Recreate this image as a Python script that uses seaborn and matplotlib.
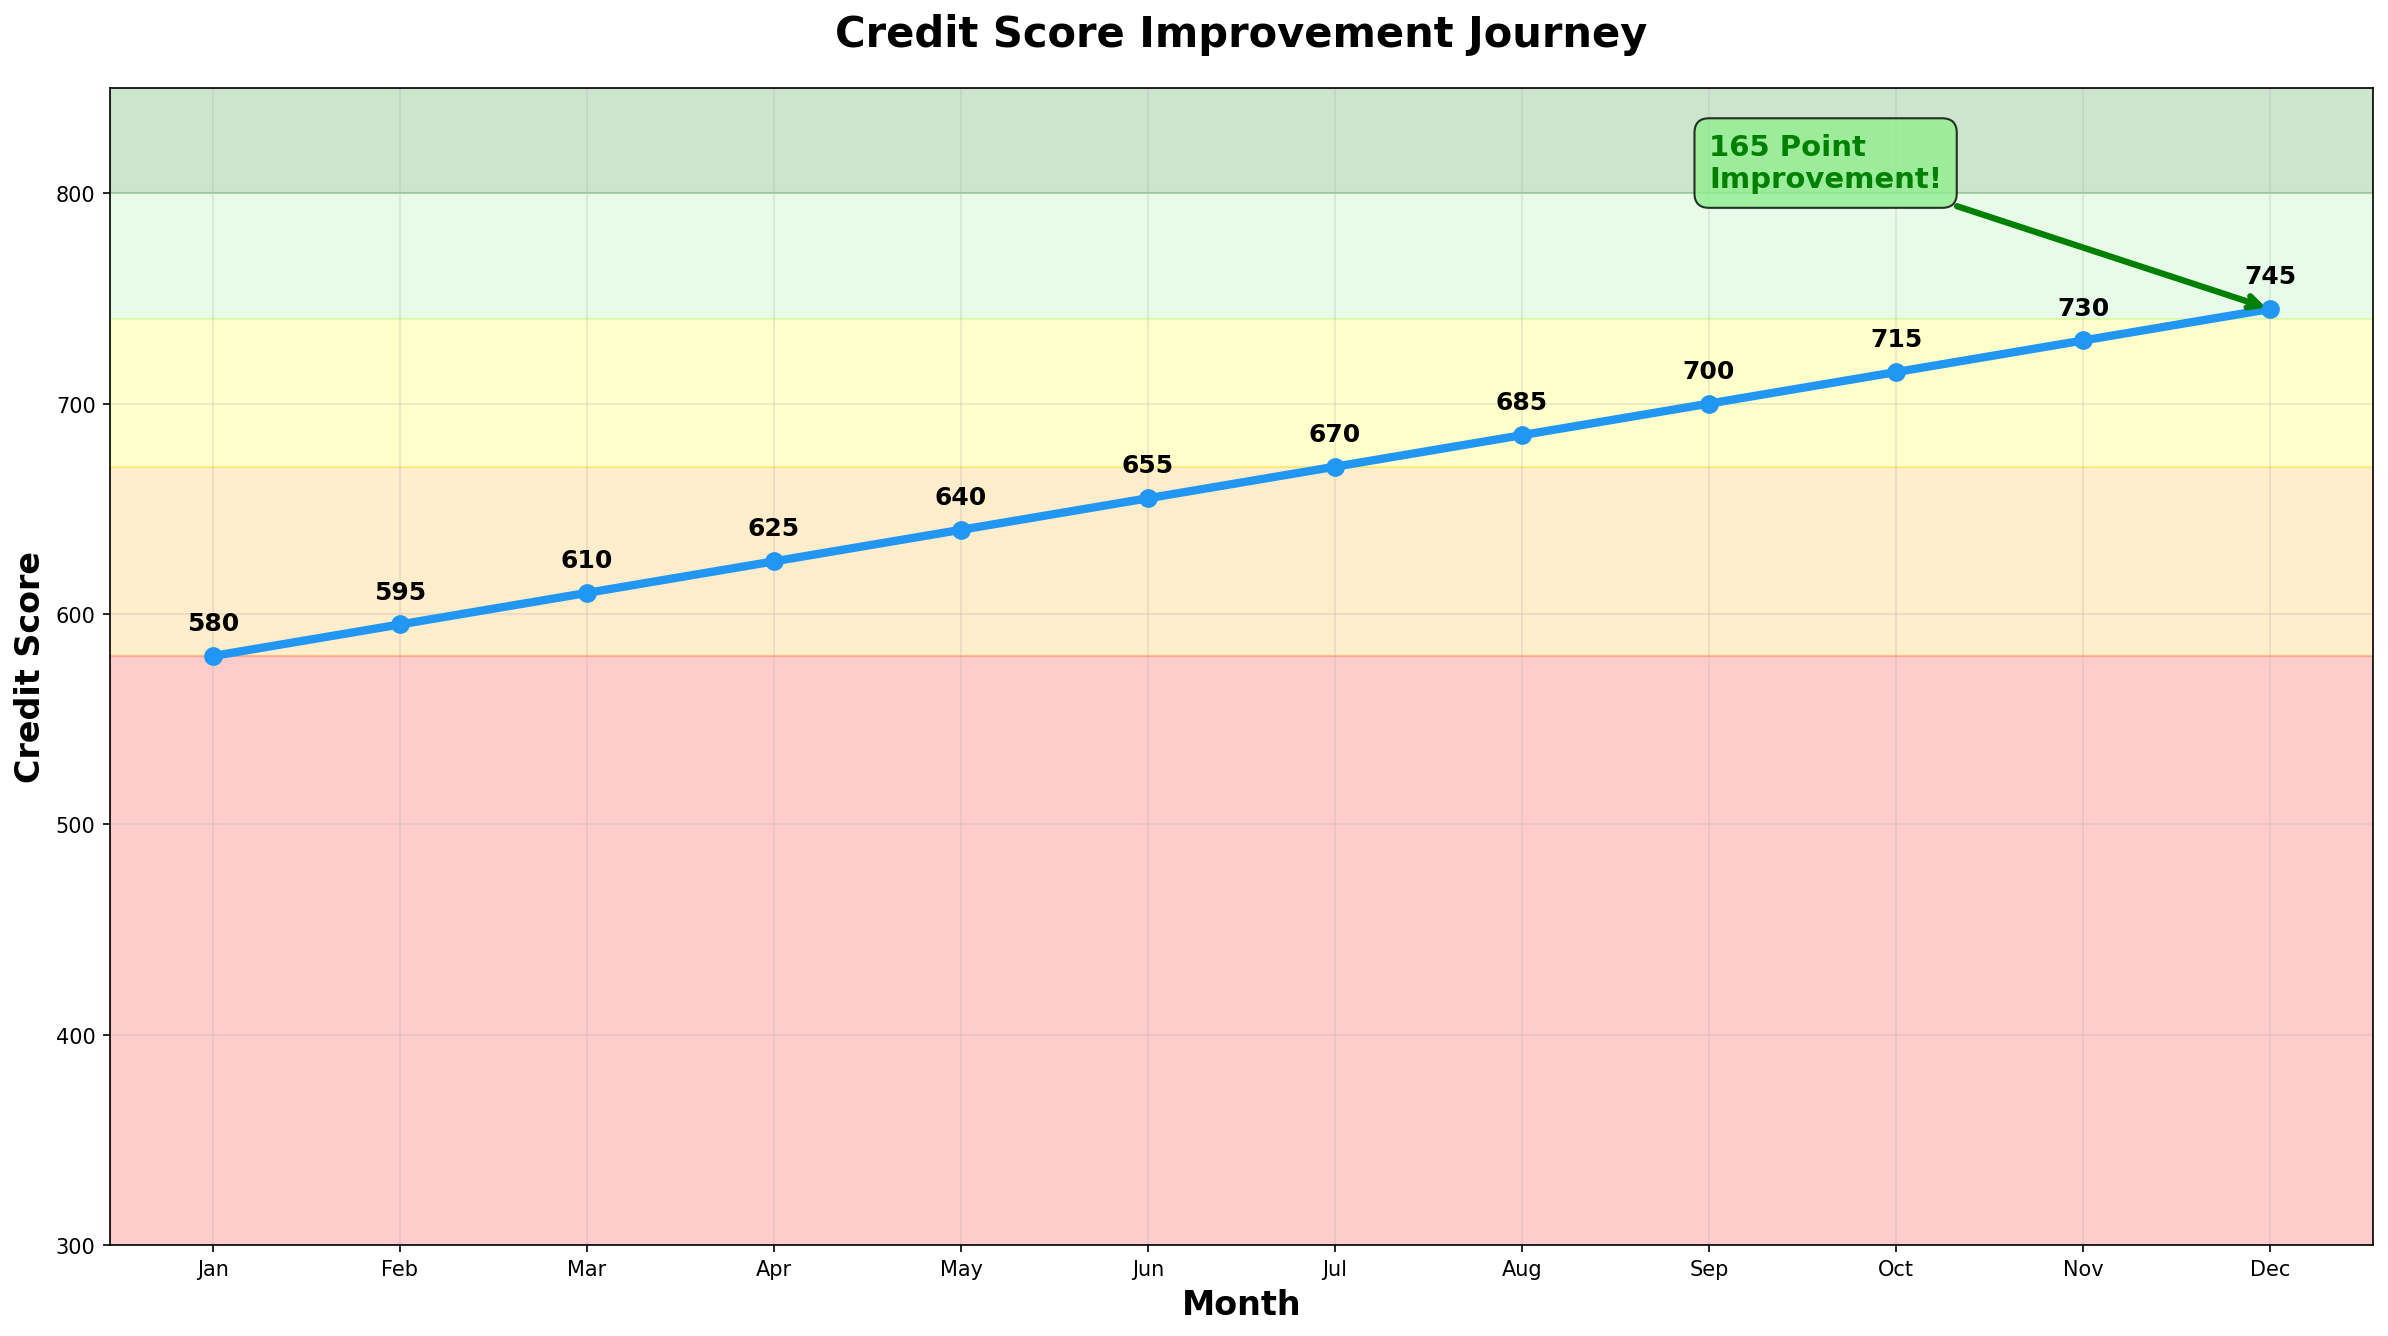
import matplotlib
matplotlib.use("Agg")
import matplotlib.pyplot as plt
import seaborn as sns
import pandas as pd

# ── Data ──────────────────────────────────────────────────────────────────────
months = ["Jan", "Feb", "Mar", "Apr", "May", "Jun",
          "Jul", "Aug", "Sep", "Oct", "Nov", "Dec"]
scores = [580, 595, 610, 625, 640, 655, 670, 685, 700, 715, 730, 745]

# credit bands: (low, high, colour)
band_lows = [300, 580, 670, 740, 800]
band_highs = [580, 670, 740, 800, 850]
band_colors = ["red", "orange", "yellow", "lightgreen", "green"]

df = pd.DataFrame({"idx": range(len(months)), "month": months, "score": scores})

fig, ax = plt.subplots(figsize=(15.92, 8.913), dpi=150)

for lo, hi, c in zip(band_lows, band_highs, band_colors):
    ax.axhspan(lo, hi, color=c, alpha=0.2, zorder=0)

sns.lineplot(data=df, x="idx", y="score", ax=ax, color="#2196F3",
             linewidth=4, marker="o", markersize=9, markeredgewidth=0,
             zorder=3)

for i, s in zip(df["idx"], df["score"]):
    ax.annotate(f"{s}", (i, s), xytext=(0, 10), textcoords="offset points",
                ha="center", va="bottom", fontsize=12, fontweight="bold")

gain = scores[-1] - scores[0]
ax.annotate(f"{gain} Point\nImprovement!",
            xy=(len(months) - 1, scores[-1]), xytext=(8, 800),
            fontsize=14, fontweight="bold", color="green",
            ha="left", va="bottom",
            bbox=dict(boxstyle="round,pad=0.5", facecolor="lightgreen",
                      edgecolor="black", alpha=0.8),
            arrowprops=dict(arrowstyle="->", color="green", lw=3))

ax.set_xticks(df["idx"])
ax.set_xticklabels(months)
ax.set_xlim(-0.55, len(months) - 0.45)
ax.set_ylim(300, 850)
ax.grid(True, alpha=0.3)
ax.set_axisbelow(True)

ax.set_title("Credit Score Improvement Journey", fontsize=20,
             fontweight="bold", pad=20)
ax.set_xlabel("Month", fontsize=16, fontweight="bold")
ax.set_ylabel("Credit Score", fontsize=16, fontweight="bold")

fig.subplots_adjust(left=0.0461, right=0.9937, top=0.9334, bottom=0.0681)
fig.savefig("out.png", dpi=150)
